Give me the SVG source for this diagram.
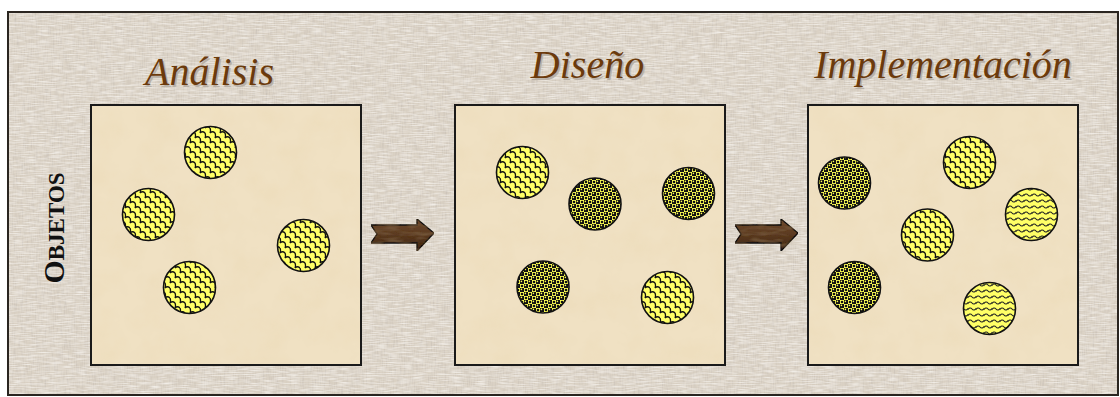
<svg xmlns="http://www.w3.org/2000/svg" width="1120" height="397" viewBox="0 0 1120 397">
  <style>
    .title { font-family: "Liberation Serif", "Times New Roman", serif; font-style: italic; font-size: 40px; fill: #6b3a0c; text-anchor: middle; }
    .shadow { font-family: "Liberation Serif", "Times New Roman", serif; font-style: italic; font-size: 40px; fill: #b9b1a7; text-anchor: middle; }
    .panel { fill: #f0e1c3; }
    .frame { fill: none; stroke: #1a1a1a; stroke-width: 2; }
    .obj { stroke: #111; stroke-width: 1.6; }
    .w { fill: url(#weave); }
    .d { fill: url(#dots); }
    .v { fill: url(#wave); }
    .arrow { fill: url(#wood); stroke: #111; stroke-width: 1.3; stroke-linejoin: miter; }
    .label { font-family: "Liberation Serif", "Times New Roman", serif; font-weight: bold; fill: #111; text-anchor: middle; }
  </style>
  <defs>
    <filter id="linenTex" x="0" y="0" width="100%" height="100%">
      <feTurbulence type="fractalNoise" baseFrequency="0.9 0.08" numOctaves="2" seed="3" result="n1"/>
      <feColorMatrix in="n1" type="matrix" values="0 0 0 0 0.55  0 0 0 0 0.5  0 0 0 0 0.45  0 0 0 1.3 -0.55" result="c1"/>
      <feTurbulence type="fractalNoise" baseFrequency="0.08 0.9" numOctaves="2" seed="7" result="n2"/>
      <feColorMatrix in="n2" type="matrix" values="0 0 0 0 0.98  0 0 0 0 0.96  0 0 0 0 0.93  0 0 0 1.3 -0.5" result="c2"/>
      <feMerge><feMergeNode in="SourceGraphic"/><feMergeNode in="c1"/><feMergeNode in="c2"/></feMerge>
    </filter>
    <filter id="parchTex" x="0" y="0" width="100%" height="100%">
      <feTurbulence type="fractalNoise" baseFrequency="0.035" numOctaves="4" seed="11" result="n"/>
      <feColorMatrix in="n" type="matrix" values="0 0 0 0 0.85  0 0 0 0 0.72  0 0 0 0 0.5  0 0 0 1.6 -0.62" result="c"/>
      <feComposite in="c" in2="SourceGraphic" operator="in" result="cc"/>
      <feMerge><feMergeNode in="SourceGraphic"/><feMergeNode in="cc"/></feMerge>
    </filter>
    <filter id="woodTex" x="0" y="0" width="100%" height="100%">
      <feTurbulence type="fractalNoise" baseFrequency="0.06 0.25" numOctaves="2" seed="5" result="n"/>
      <feColorMatrix in="n" type="matrix" values="0 0 0 0 0.22  0 0 0 0 0.13  0 0 0 0 0.06  0 0 0 1.4 -0.6" result="c"/>
      <feComposite in="c" in2="SourceGraphic" operator="in" result="cc"/>
      <feMerge><feMergeNode in="SourceGraphic"/><feMergeNode in="cc"/></feMerge>
    </filter>
    <linearGradient id="wood" x1="0" y1="0" x2="0" y2="1">
      <stop offset="0" stop-color="#6e4a2e"/>
      <stop offset="0.5" stop-color="#5a3920"/>
      <stop offset="1" stop-color="#3d2512"/>
    </linearGradient>
    <pattern id="weave" patternUnits="userSpaceOnUse" width="10" height="10">
      <rect width="10" height="10" fill="#ffff66"/>
      <path d="M0 3 Q2.5 0.5 5 3 M5 8 Q7.5 5.5 10 8 M5 3 Q6 5.5 5 8 M0 8 Q1 10.5 0 13 M10 8 Q11 10.5 10 13 M0 -2 Q1 0.5 0 3 M10 -2 Q11 0.5 10 3" fill="none" stroke="#111" stroke-width="1.3"/>
    </pattern>
    <pattern id="dots" patternUnits="userSpaceOnUse" width="8" height="8">
      <rect width="8" height="8" fill="#ffff55"/>
      <rect x="0" y="0" width="4" height="4" fill="#111"/>
      <rect x="4" y="4" width="4" height="4" fill="#111"/>
      <circle cx="1.4" cy="1.4" r="0.8" fill="#ffff55"/>
      <circle cx="5.4" cy="5.4" r="0.8" fill="#ffff55"/>
      <circle cx="6" cy="2" r="1.3" fill="#111"/>
      <circle cx="2" cy="6" r="1.3" fill="#111"/>
    </pattern>
    <pattern id="wave" patternUnits="userSpaceOnUse" width="8" height="6">
      <rect width="8" height="6" fill="#ffff66"/>
      <path d="M-0.5 4 Q2 0.5 4 3 Q6 5.5 8.5 2" fill="none" stroke="#222" stroke-width="1.1"/>
    </pattern>
  </defs>

  <g id="background">
    <rect x="0" y="0" width="1120" height="397" fill="#ffffff"/>
    <rect x="8" y="12" width="1110" height="383" fill="#dad1c4" filter="url(#linenTex)"/>
    <rect x="8" y="12" width="1110" height="383" fill="none" stroke="#2a2520" stroke-width="2"/>
  </g>

  <g id="label-objetos">
    <text class="label" transform="translate(64,228) rotate(-90)"><tspan font-size="30">O</tspan><tspan font-size="23">BJETOS</tspan></text>
  </g>

  <g id="analisis">
    <text class="shadow" x="211" y="86.5">Análisis</text>
    <text class="title" x="209.5" y="85">Análisis</text>
    <rect class="panel" x="91" y="105" width="270" height="260" filter="url(#parchTex)"/>
    <rect class="frame" x="91" y="105" width="270" height="260"/>
    <g id="a-obj1"><circle class="obj w" cx="210.5" cy="152.5" r="26"/></g>
    <g id="a-obj2"><circle class="obj w" cx="148.5" cy="214.5" r="26"/></g>
    <g id="a-obj3"><circle class="obj w" cx="303.5" cy="245.5" r="26"/></g>
    <g id="a-obj4"><circle class="obj w" cx="189.5" cy="287.5" r="26"/></g>
  </g>

  <g id="diseno">
    <text class="shadow" x="589" y="79.5">Diseño</text>
    <text class="title" x="587.5" y="78">Diseño</text>
    <rect class="panel" x="455" y="105" width="270" height="260" filter="url(#parchTex)"/>
    <rect class="frame" x="455" y="105" width="270" height="260"/>
    <g id="d-obj1"><circle class="obj w" cx="522.5" cy="172.5" r="26"/></g>
    <g id="d-obj2"><circle class="obj d" cx="595" cy="204" r="26"/></g>
    <g id="d-obj3"><circle class="obj d" cx="688.5" cy="193.5" r="26"/></g>
    <g id="d-obj4"><circle class="obj d" cx="543" cy="287" r="26"/></g>
    <g id="d-obj5"><circle class="obj w" cx="667.5" cy="297.5" r="26"/></g>
  </g>

  <g id="implementacion">
    <text class="shadow" x="944.5" y="79.5">Implementación</text>
    <text class="title" x="943" y="78">Implementación</text>
    <rect class="panel" x="808" y="105" width="270" height="260" filter="url(#parchTex)"/>
    <rect class="frame" x="808" y="105" width="270" height="260"/>
    <g id="i-obj1"><circle class="obj d" cx="844.5" cy="183" r="26"/></g>
    <g id="i-obj2"><circle class="obj w" cx="969.5" cy="162.5" r="26"/></g>
    <g id="i-obj3"><circle class="obj v" cx="1031.5" cy="214.5" r="26"/></g>
    <g id="i-obj4"><circle class="obj w" cx="927.5" cy="235" r="26"/></g>
    <g id="i-obj5"><circle class="obj d" cx="854.5" cy="287.5" r="26"/></g>
    <g id="i-obj6"><circle class="obj v" cx="989.5" cy="308.5" r="26"/></g>
  </g>

  <g id="connectors">
    <polygon class="arrow" filter="url(#woodTex)" points="371,225 417,225 417,219 434,233 417,251 417,243 371,243 377,234"/>
    <polygon class="arrow" filter="url(#woodTex)" points="735,225 781,225 781,219 798,233 781,251 781,243 735,243 741,234"/>
  </g>
</svg>
